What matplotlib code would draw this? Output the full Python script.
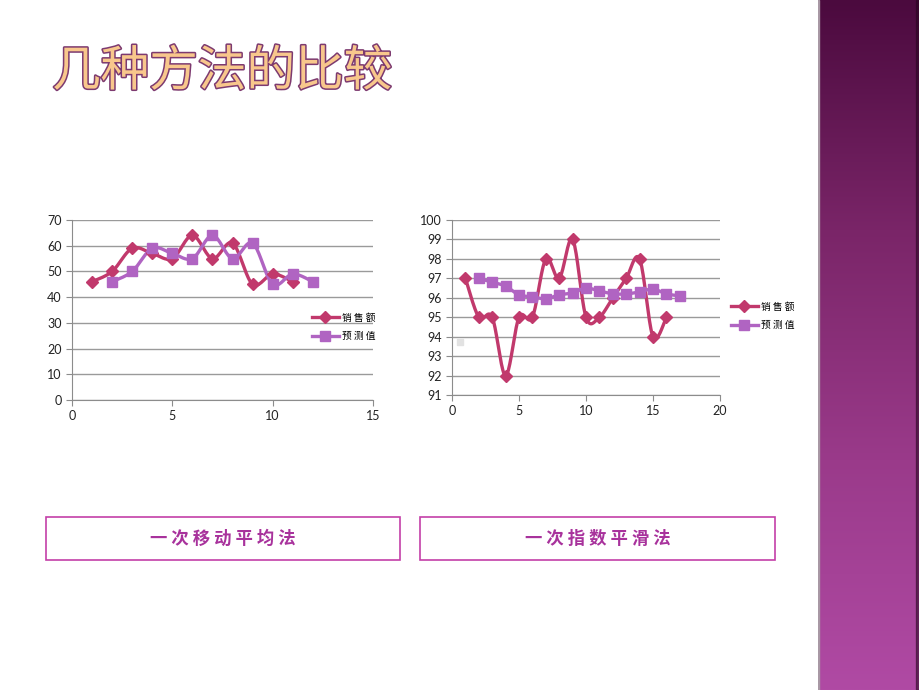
import numpy as np
import matplotlib
matplotlib.use("Agg")
import matplotlib.pyplot as plt
import matplotlib.patheffects as pe
from matplotlib.patches import Rectangle

plt.rcParams['font.family'] = ['Lato', 'Noto Sans CJK SC', 'DejaVu Sans']

# left chart: moving average
ma_x_sales = [1, 2, 3, 4, 5, 6, 7, 8, 9, 10, 11]
ma_sales = [46, 50, 59, 57, 55, 64, 55, 61, 45, 49, 46]
ma_x_pred = [2, 3, 4, 5, 6, 7, 8, 9, 10, 11, 12]
ma_pred = [46, 50, 59, 57, 55, 64, 55, 61, 45, 49, 46]

# right chart: exponential smoothing
es_x_sales = list(range(1, 17))
es_sales = [97, 95, 95, 92, 95, 95, 98, 97, 99, 95, 95, 96, 97, 98, 94, 95]
es_x_pred = list(range(2, 18))
es_pred = [97.0, 96.8, 96.6, 96.15, 96.05, 95.95, 96.15, 96.25, 96.5, 96.35,
           96.2, 96.2, 96.3, 96.45, 96.2, 96.1]
stray_x = [0.6]
stray_y = [93.75]

labels = ['销售额', '预测值']
box_titles = ['一次移动平均法', '一次指数平滑法']
title = '几种方法的比较'

c_sales = '#c1396c'
c_pred = '#b064c2'


def smooth(xs, ys, n=20):
    # excel-like smoothed line (catmull-rom bezier through the points)
    p = np.column_stack([xs, ys]).astype(float)
    p = np.vstack([p[0], p, p[-1]])
    out = []
    t = np.linspace(0, 1, n)[:, None]
    for i in range(1, len(p) - 2):
        a, b = p[i], p[i + 1]
        b1 = a + (p[i + 1] - p[i - 1]) / 6
        b2 = b - (p[i + 2] - p[i]) / 6
        seg = ((1 - t) ** 3) * a + 3 * ((1 - t) ** 2) * t * b1 + 3 * (1 - t) * t ** 2 * b2 + t ** 3 * b
        out.append(seg)
    out = np.vstack(out)
    return out[:, 0], out[:, 1]


def style_axes(ax):
    ax.grid(axis='y', color='#9a9a9a', lw=1.0)
    ax.set_axisbelow(True)
    for s in ['top', 'right']:
        ax.spines[s].set_visible(False)
    for s in ['left', 'bottom']:
        ax.spines[s].set_color('#8c8c8c')
    ax.tick_params(colors='#8c8c8c', labelcolor='#222222', labelsize=9,
                   direction='out', length=4)


def draw_series(ax, xs, ys, color, marker, ms, label):
    sx, sy = smooth(xs, ys)
    ax.plot(sx, sy, color=color, lw=2.4, solid_capstyle='round', zorder=3)
    ax.plot(xs, ys, ls='none', marker=marker, ms=ms, color=color, zorder=4)
    ax.plot([], [], color=color, lw=2.4, marker=marker, ms=ms, label=label)


fig = plt.figure(figsize=(9.2, 6.9), dpi=100)

# purple side bar
bar = fig.add_axes([818 / 920, 0, 102 / 920, 1])
grad = np.linspace(0, 1, 256)[:, None]
cmap = matplotlib.colors.LinearSegmentedColormap.from_list(
    'bar', ['#4b0a3e', '#7a2568', '#9a3a8a', '#b04aa4'])
bar.imshow(grad, aspect='auto', cmap=cmap, extent=[0, 1, 0, 1], origin='upper')
bar.add_patch(Rectangle((0.965, 0), 0.035, 1, color='#2a0622', alpha=0.55))
bar.add_patch(Rectangle((0, 0), 0.012, 1, color='#a898a4'))
bar.set_xlim(0, 1)
bar.set_ylim(0, 1)
bar.axis('off')

# title
fig.text(52 / 920, 1 - 72 / 690, title, fontsize=35, color='#f8c78c',
         family=['Noto Sans CJK SC'], va='center', ha='left',
         path_effects=[pe.withStroke(linewidth=2.2, foreground='#7d3a70')])

# left chart
ax1 = fig.add_axes([72 / 920, 1 - 400 / 690, 301 / 920, 180 / 690])
style_axes(ax1)
draw_series(ax1, ma_x_sales, ma_sales, c_sales, 'D', 6, labels[0])
draw_series(ax1, ma_x_pred, ma_pred, c_pred, 's', 7.5, labels[1])
ax1.set_xlim(0, 15)
ax1.set_ylim(0, 70)
ax1.set_xticks([0, 5, 10, 15])
ax1.set_yticks(range(0, 71, 10))
leg1 = ax1.legend(loc='center left', bbox_to_anchor=(303 / 920, 1 - 327 / 690),
                  bbox_transform=fig.transFigure, frameon=False, fontsize=7,
                  handlelength=2.8, labelspacing=0.9, handletextpad=0.3)

# right chart
ax2 = fig.add_axes([452 / 920, 1 - 395 / 690, 268 / 920, 175 / 690])
style_axes(ax2)
draw_series(ax2, es_x_sales, es_sales, c_sales, 'D', 6, labels[0])
draw_series(ax2, es_x_pred, es_pred, c_pred, 's', 7.5, labels[1])
ax2.plot(stray_x, stray_y, ls='none', marker='s', ms=4, color='#e2e2e2', zorder=2)
ax2.set_xlim(0, 20)
ax2.set_ylim(91, 100)
ax2.set_xticks([0, 5, 10, 15, 20])
ax2.set_yticks(range(91, 101))
leg2 = ax2.legend(loc='center left', bbox_to_anchor=(722 / 920, 1 - 316 / 690),
                  bbox_transform=fig.transFigure, frameon=False, fontsize=7,
                  handlelength=2.8, labelspacing=0.9, handletextpad=0.3)
for leg in (leg1, leg2):
    for t in leg.get_texts():
        t.set_family(['Noto Sans CJK SC'])
        t.set_text(' '.join(t.get_text()))

# method boxes
boxes = [(46, 517, 354, 43), (420, 517, 355, 43)]
for (bx, by, bw, bh), name in zip(boxes, box_titles):
    fig.patches.append(Rectangle((bx / 920, 1 - (by + bh) / 690), bw / 920, bh / 690,
                                 transform=fig.transFigure, fill=False,
                                 edgecolor='#c43fa8', lw=1.2))
    fig.text((bx + bw / 2) / 920, 1 - (by + bh / 2) / 690, ' '.join(name),
             fontsize=12.5, fontweight='bold', color='#a8329c',
             family=['Noto Sans CJK SC'], ha='center', va='center')

fig.savefig('out.png', dpi=100)
